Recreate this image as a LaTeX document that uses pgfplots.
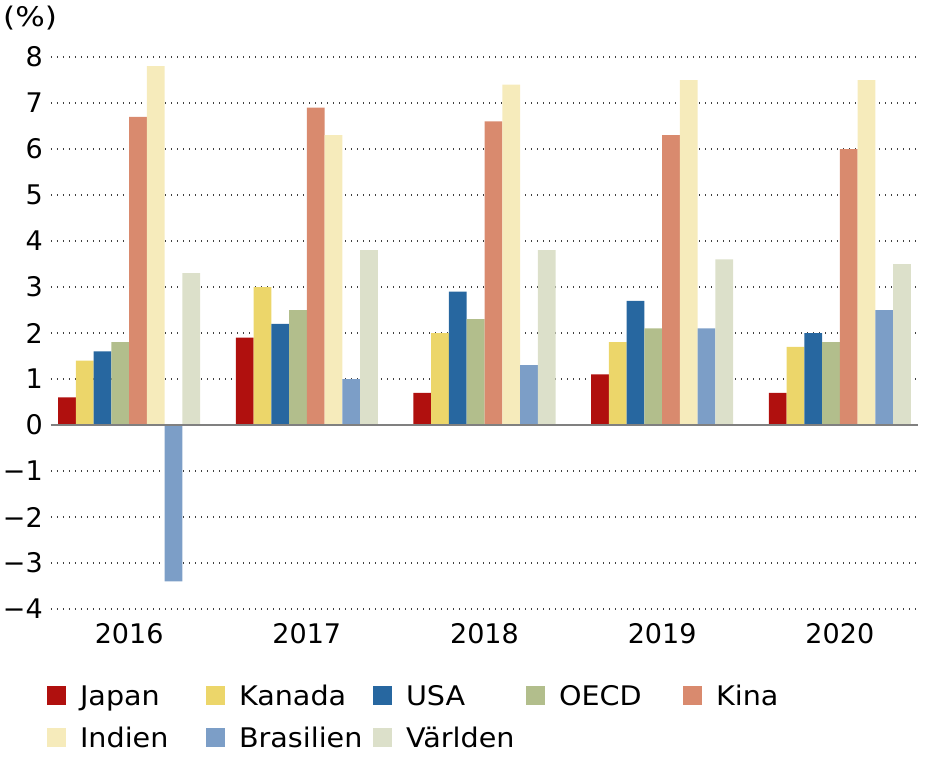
\documentclass[border=0pt]{standalone}
\usepackage{pgfplots}
\pgfplotsset{compat=1.18}
\usepackage{fontspec}
\setmainfont{DejaVu Sans}
\definecolor{cJapan}{RGB}{176,16,14}
\definecolor{cKanada}{RGB}{236,214,106}
\definecolor{cUSA}{RGB}{39,103,160}
\definecolor{cOECD}{RGB}{178,190,140}
\definecolor{cKina}{RGB}{217,138,110}
\definecolor{cIndien}{RGB}{246,235,187}
\definecolor{cBrasilien}{RGB}{124,158,199}
\definecolor{cVarlden}{RGB}{220,224,202}
\newcommand{\lt}[2][128pt]{\makebox[#1][l]{\hspace{2pt}\scalebox{1.06}[1]{#2}}}
\begin{document}
\begin{tikzpicture}[x=1pt,y=1pt]
\useasboundingbox (-51,-148) rectangle (890,609);
\node[anchor=base west, inner sep=0pt, font=\fontsize{27}{32}\selectfont] at (-48,582.5) {\scalebox{1.15}[1]{(\%)}};
\begin{axis}[
  at={(0,0)}, anchor=south west,
  scale only axis, width=867pt, height=552pt,
  xmin=-0.44, xmax=4.44, ymin=-4, ymax=8,
  xtick={0,1,2,3,4}, xticklabels={2016,2017,2018,2019,2020},
  ytick={-4,-3,-2,-1,0,1,2,3,4,5,6,7,8},
  yticklabels={−4,−3,−2,−1,0,1,2,3,4,5,6,7,8},
  axis line style={draw=none}, major tick length=0pt,
  tick style={draw=none},
  ymajorgrids, grid style={black!75, line width=1.2pt, dash pattern=on 1.2pt off 4.8pt},
  tick label style={font=\fontsize{27}{32}\selectfont},
  yticklabel style={inner sep=0pt, xshift=-8pt},
  xticklabel style={inner sep=0pt, yshift=-14pt},
  legend columns=5,
  legend style={draw=none, inner sep=0pt, outer sep=0pt,
    at={(-0.0046,-0.1377)}, anchor=north west,
    font=\fontsize{27}{32}\selectfont,
    nodes={inner sep=0pt, text height=20pt, text depth=7pt},
    cells={anchor=base west},
    row sep=15pt,
    /tikz/every odd column/.append style={column sep=12pt}},
  legend image code/.code={\fill[#1] (0pt,0.5pt) rectangle (19pt,19.5pt);},
  every axis plot/.append style={ybar, bar width=0.1, draw=none},
]
\addplot[fill=cJapan, bar shift=-0.35] coordinates {(0,0.6) (1,1.9) (2,0.7) (3,1.1) (4,0.7)};
\addplot[fill=cKanada, bar shift=-0.25] coordinates {(0,1.4) (1,3.0) (2,2.0) (3,1.8) (4,1.7)};
\addplot[fill=cUSA, bar shift=-0.15] coordinates {(0,1.6) (1,2.2) (2,2.9) (3,2.7) (4,2.0)};
\addplot[fill=cOECD, bar shift=-0.05] coordinates {(0,1.8) (1,2.5) (2,2.3) (3,2.1) (4,1.8)};
\addplot[fill=cKina, bar shift=0.05] coordinates {(0,6.7) (1,6.9) (2,6.6) (3,6.3) (4,6.0)};
\addplot[fill=cIndien, bar shift=0.15] coordinates {(0,7.8) (1,6.3) (2,7.4) (3,7.5) (4,7.5)};
\addplot[fill=cBrasilien, bar shift=0.25] coordinates {(0,-3.4) (1,1.0) (2,1.3) (3,2.1) (4,2.5)};
\addplot[fill=cVarlden, bar shift=0.35] coordinates {(0,3.3) (1,3.8) (2,3.8) (3,3.6) (4,3.5)};
\legend{\lt{Japan},\lt[136pt]{Kanada},\lt[122pt]{USA},\lt[126pt]{OECD},\lt{Kina},\lt{Indien},\lt[136pt]{Brasilien},\lt[122pt]{Världen}}
\draw[black!50, line width=1.8pt] (axis cs:-0.44,0) -- (axis cs:4.44,0);
\end{axis}
\end{tikzpicture}
\end{document}
